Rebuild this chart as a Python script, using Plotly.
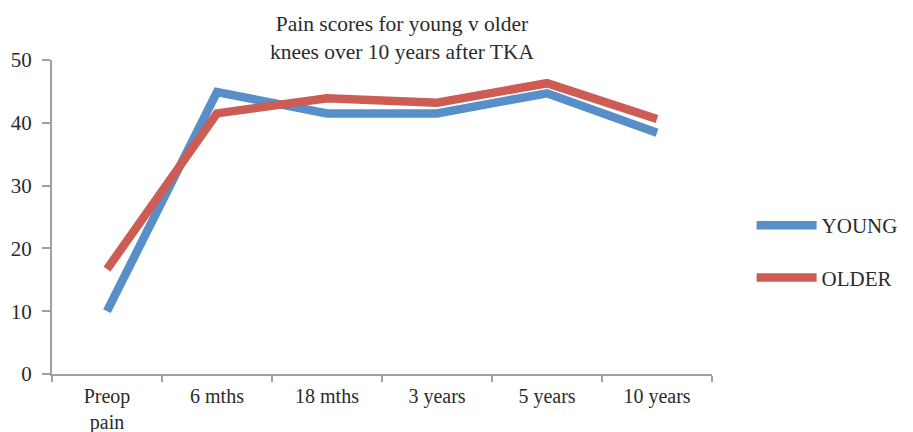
import plotly.graph_objects as go

categories = ["Preop<br>pain", "6 mths", "18 mths", "3 years", "5 years", "10 years"]
young = [10.0, 44.9, 41.5, 41.5, 44.7, 38.4]
older = [16.7, 41.5, 43.9, 43.2, 46.3, 40.6]
y_ticks = [0, 10, 20, 30, 40, 50]

FONT = "Liberation Serif, Times New Roman, serif"
TXT = "#2b2b2b"
AX = "#a0a0a0"

# page body has an 8px default margin -> figure is 905x424 drawn at (8, 8)
W, H = 905, 424

fig = go.Figure()
fig.add_trace(go.Scatter(x=categories, y=young, name="YOUNG", mode="lines", legendgroup="y",
                         line=dict(color="#588FC8", width=8.5)))
fig.add_trace(go.Scatter(x=categories, y=older, name="OLDER", mode="lines", legendgroup="o",
                         line=dict(color="#CD5C55", width=8.5)))

fig.update_layout(
    width=W, height=H,
    margin=dict(l=44, r=201, t=52, b=58, autoexpand=False),
    paper_bgcolor="white", plot_bgcolor="white",
    font=dict(family=FONT, size=21, color=TXT),
    title=dict(text="Pain scores for young v older<br>knees over 10 years after TKA",
               x=394 / W, xanchor="center", xref="container",
               y=1 - 23 / H, yanchor="middle", yref="container",
               font=dict(family=FONT, size=21.5, color=TXT)),
    showlegend=True,
    legend=dict(x=1.060, xanchor="left", y=0.39, yanchor="middle",
                font=dict(family=FONT, size=21, color=TXT),
                tracegroupgap=22, itemwidth=60, bgcolor="rgba(0,0,0,0)"),
)
fig.update_xaxes(type="category", range=[-0.5, 5.5], showgrid=False, automargin=False,
                 showline=True, linecolor=AX, linewidth=2,
                 ticks="outside", tickson="boundaries", ticklen=6, tickcolor=AX, tickwidth=2,
                 ticklabelstandoff=3,
                 tickfont=dict(family=FONT, size=20, color=TXT))
fig.update_yaxes(range=[0, 50], tickvals=y_ticks, showgrid=False, zeroline=False, automargin=False,
                 showline=True, linecolor=AX, linewidth=2,
                 ticks="outside", ticklen=8, tickcolor=AX, tickwidth=2,
                 ticklabelstandoff=6,
                 tickfont=dict(family=FONT, size=21, color=TXT))

fig.write_html("out.html")
